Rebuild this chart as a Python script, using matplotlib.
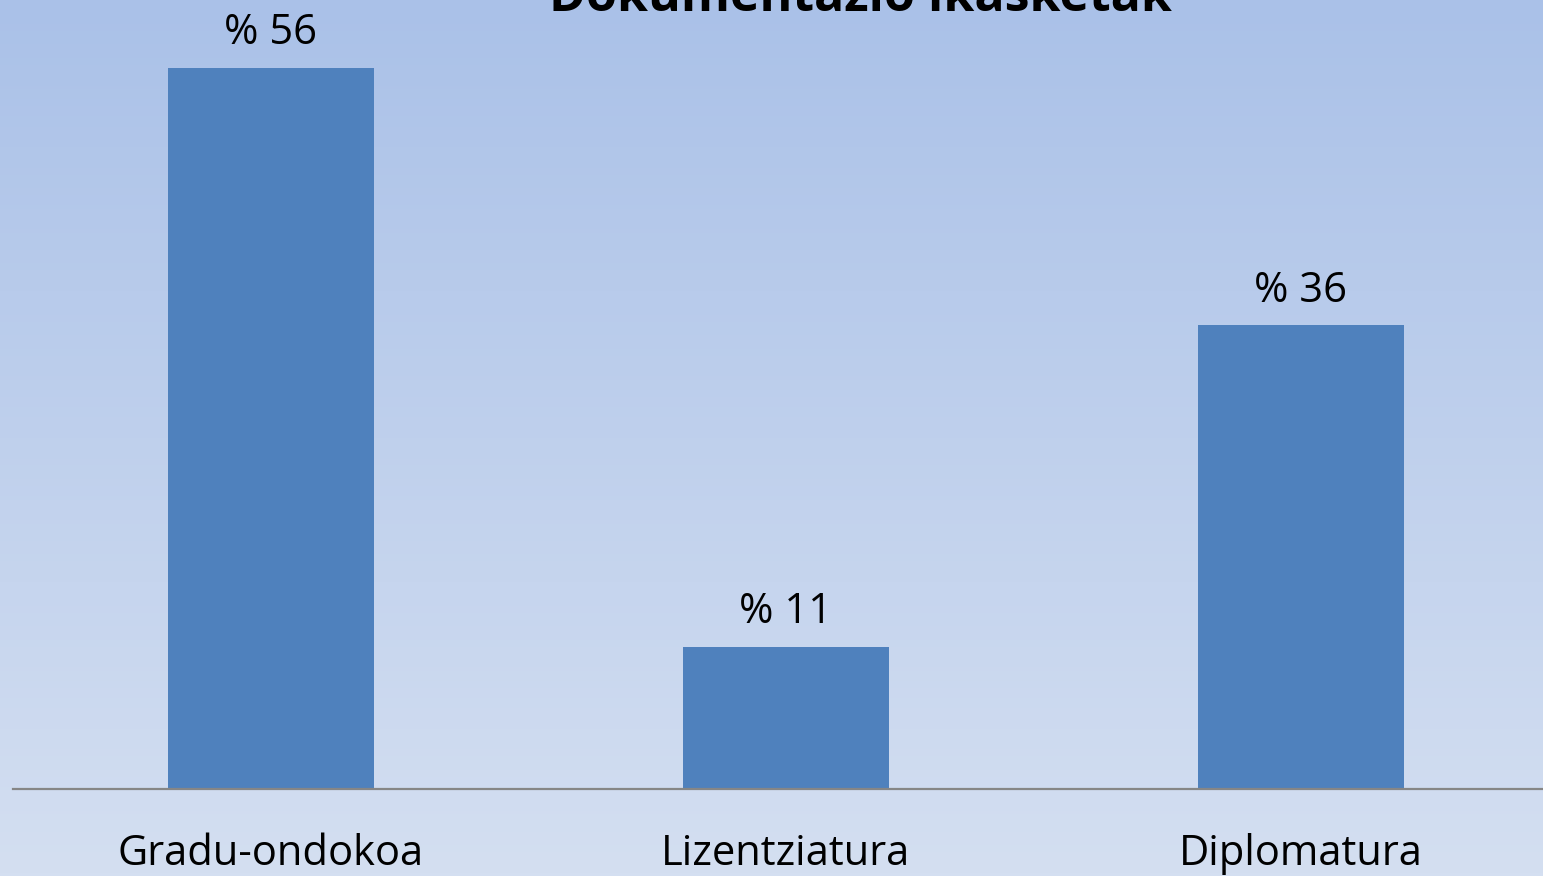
#!/usr/bin/env python3
"""Bar chart: Dokumentazio ikasketak."""
import numpy as np
import matplotlib
matplotlib.use("Agg")
import matplotlib.pyplot as plt
from matplotlib.colors import LinearSegmentedColormap

categories = ["Gradu-ondokoa", "Lizentziatura", "Diplomatura"]
values = [56, 11, 36]
labels = ["% 56", "% 11", "% 36"]
title = "Dokumentazio ikasketak"

W, H = 1543, 876
plt.rcParams["font.family"] = ["Open Sans", "DejaVu Sans"]

fig = plt.figure(figsize=(W / 100, H / 100), dpi=100)

# background gradient
bg = fig.add_axes([0, 0, 1, 1], zorder=0)
cmap = LinearSegmentedColormap.from_list("bg", ["#aac1e8", "#d4dff1"])
bg.imshow(np.linspace(0, 1, 256).reshape(-1, 1), aspect="auto", cmap=cmap,
          extent=[0, 1, 0, 1], origin="upper")
bg.axis("off")

base_y = 789
px_per_unit = 12.875
ax = fig.add_axes([13 / W, (H - base_y) / H, 1545 / W, base_y / H], zorder=1)
ax.patch.set_alpha(0)
x = np.arange(len(categories))
bars = ax.bar(x, values, width=0.4, color="#4f81bd")
ax.set_xlim(-0.5, 2.5)
ax.set_ylim(0, base_y / px_per_unit)

for b, lab in zip(bars, labels):
    ax.annotate(lab, (b.get_x() + b.get_width() / 2, b.get_height()),
                xytext=(0, 10), textcoords="offset points",
                ha="center", va="bottom", fontsize=30, color="black")

ax.set_xticks(x)
ax.set_xticklabels(categories, fontsize=30)
ax.tick_params(axis="x", length=0, pad=32)
ax.set_yticks([])
for s in ["top", "right", "left"]:
    ax.spines[s].set_visible(False)
ax.spines["bottom"].set_color("#868686")
ax.spines["bottom"].set_linewidth(1.6)

fig.text(860 / W, (H - 11) / H, title, ha="center", va="baseline",
         fontsize=36, fontweight="bold", color="black")

fig.savefig("out.png", dpi=100)
